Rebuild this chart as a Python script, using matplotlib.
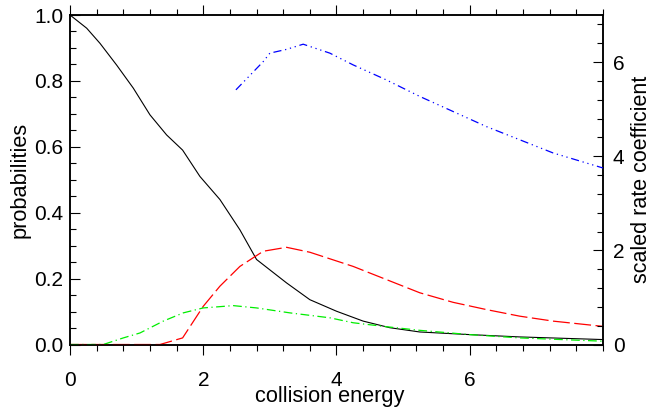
import matplotlib
matplotlib.use("Agg")
import matplotlib.pyplot as plt
from matplotlib.ticker import MultipleLocator

plt.rcParams['font.family'] = ['Liberation Sans', 'DejaVu Sans']

# black solid: first probability
x_black = [0, 0.25, 0.45, 0.70, 0.95, 1.2, 1.45, 1.69, 1.95, 2.25, 2.55, 2.8, 3.25,
           3.6, 4.0, 4.4, 4.8, 5.25, 6.0, 6.75, 8.0]
y_black = [1.0, 0.96, 0.914, 0.848, 0.778, 0.697, 0.636, 0.59, 0.51, 0.44, 0.348,
           0.258, 0.187, 0.136, 0.101, 0.071, 0.051, 0.038, 0.030, 0.023, 0.015]

# red dashed
x_red = [0, 1.35, 1.69, 2.0, 2.25, 2.55, 2.9, 3.25, 3.6, 4.25, 4.75, 5.25, 5.75,
         6.25, 6.75, 7.25, 8.0]
y_red = [0, 0.0, 0.02, 0.116, 0.177, 0.237, 0.283, 0.295, 0.28, 0.237, 0.197,
         0.157, 0.128, 0.106, 0.086, 0.071, 0.055]

# green dash-dot
x_green = [0, 0.5, 0.8, 1.05, 1.4, 1.7, 2.0, 2.45, 2.8, 3.3, 3.9, 4.25, 4.75,
           5.25, 6.0, 6.75, 8.0]
y_green = [0, 0.0, 0.02, 0.035, 0.071, 0.096, 0.111, 0.118, 0.111, 0.096, 0.081,
           0.066, 0.054, 0.043, 0.030, 0.020, 0.010]

# blue, right axis: scaled rate coefficient
x_blue = [2.49, 2.9, 3.0, 3.25, 3.5, 3.9, 4.25, 4.75, 5.25, 5.75, 6.25, 6.75, 7.25, 8.0]
y_blue = [5.41, 6.01, 6.19, 6.27, 6.38, 6.19, 5.94, 5.62, 5.27, 4.95, 4.63, 4.35,
          4.07, 3.75]

fig = plt.figure(figsize=(6.52, 4.09), dpi=100)
ax = fig.add_axes([0.1074, 0.1577, 0.8174, 0.8056])
ax2 = ax.twinx()

ax.plot(x_black, y_black, color='black', lw=0.8, zorder=3, clip_on=False)
ax.plot(x_red, y_red, color='red', lw=0.9, dashes=(13.5, 3.6), zorder=3, clip_on=False)
ax.plot(x_green, y_green, color='#00ee00', lw=0.9, dashes=(7, 2.8, 1, 2.8),
        zorder=3, clip_on=False)
ax2.plot(x_blue, y_blue, color='blue', lw=0.9,
         dashes=(6.5, 3, 1, 3, 1, 3, 1, 3), zorder=3)

ax.set_xlim(0, 8)
ax.set_ylim(0, 1)
ax2.set_ylim(0, 7)

ax.xaxis.set_major_locator(MultipleLocator(2))
ax.xaxis.set_minor_locator(MultipleLocator(0.4))
ax.yaxis.set_major_locator(MultipleLocator(0.2))
ax.yaxis.set_minor_locator(MultipleLocator(0.05))
ax.set_yticks([0, 0.2, 0.4, 0.6, 0.8, 1.0])
ax.set_yticklabels(['0.0', '0.2', '0.4', '0.6', '0.8', '1.0'])
ax.set_xticks([0, 2, 4, 6])
ax2.yaxis.set_major_locator(MultipleLocator(2))
ax2.yaxis.set_minor_locator(MultipleLocator(0.4))

ax.tick_params(axis='x', which='both', direction='out', top=True, bottom=True,
               labelsize=15, pad=12, width=0.8)
ax.tick_params(axis='x', which='major', length=7)
ax.tick_params(axis='x', which='minor', length=4)
ax.tick_params(axis='y', which='both', direction='in', right=False,
               labelsize=15, pad=5, width=0.8)
ax.tick_params(axis='y', which='major', length=7)
ax.tick_params(axis='y', which='minor', length=4)
ax2.tick_params(axis='y', which='both', direction='in', labelsize=15, pad=7, width=0.8)
ax2.tick_params(axis='y', which='major', length=7)
ax2.tick_params(axis='y', which='minor', length=4)

for a in (ax, ax2):
    for s in a.spines.values():
        s.set_linewidth(1.1)

ax.set_xlabel('collision energy', fontsize=15.7, labelpad=-3, x=0.487)
ax.set_ylabel('probabilities', fontsize=15.7, labelpad=2)
ax2.set_ylabel('scaled rate coefficient', fontsize=15.5, labelpad=5)

fig.savefig('out.png', dpi=100)
